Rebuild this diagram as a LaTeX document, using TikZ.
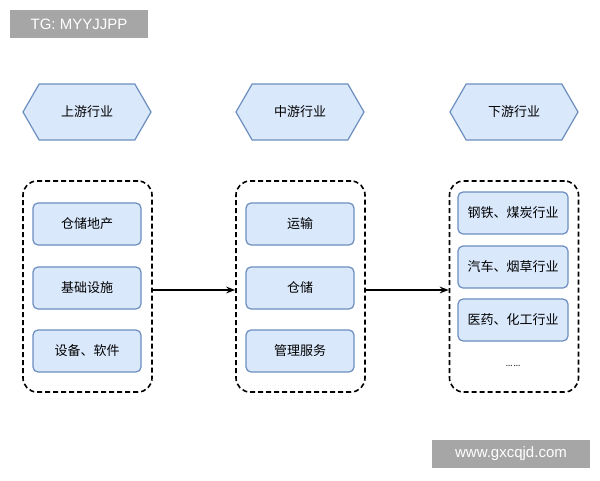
\documentclass[tikz,border=0pt]{standalone}
\usepackage{fontspec}
\newfontfamily\cjk{Noto Sans CJK SC}
\newfontfamily\tagfont{Liberation Sans}
\usetikzlibrary{shapes.symbols,arrows.meta}
\definecolor{lblue}{HTML}{DAE8FC}
\definecolor{dblue}{HTML}{6C8EBF}
\tikzset{
  hexa/.style={signal,signal to=west and east,signal pointer angle=120,draw=dblue,fill=lblue,line width=1.2pt,
    minimum width=128pt,minimum height=56pt,inner sep=0pt,font=\cjk\fontsize{13}{15}\selectfont},
  item/.style={draw=dblue,fill=lblue,line width=1.2pt,rounded corners=5pt,minimum width=108pt,minimum height=42pt,
    inner sep=0pt,font=\cjk\fontsize{13}{15}\selectfont},
  group/.style={draw,line width=1.6pt,dash pattern=on 5pt off 3pt,rounded corners=14pt,minimum width=129pt,minimum height=211pt},
  tag/.style={fill=gray!70,text=white,inner sep=0pt,font=\tagfont\fontsize{15}{17}\selectfont}
}
\begin{document}
\begin{tikzpicture}[x=1pt,y=-1pt]
\useasboundingbox (0,0) rectangle (600,480);
\fill[white] (0,0) rectangle (600,480);
\node[tag,minimum width=138pt,minimum height=28pt] (tg) at (79,24) {TG: MYYJJPP};
\node[tag,minimum width=158pt,minimum height=28pt] (web) at (511,454) {www.gxcqjd.com};
% headers
\node[hexa] (up) at (87,112) {上游行业};
\node[hexa] (mid) at (300,112) {中游行业};
\node[hexa] (down) at (514,112) {下游行业};
% groups
\node[group] (g1) at (87.5,286.5) {};
\node[group] (g2) at (300.5,286.5) {};
\node[group] (g3) at (514,286.5) {};
% upstream
\node[item] (u1) at (87,224) {仓储地产};
\node[item] (u2) at (87,288) {基础设施};
\node[item] (u3) at (87,351) {设备、软件};
% midstream
\node[item] (m1) at (300,224) {运输};
\node[item] (m2) at (300,288) {仓储};
\node[item] (m3) at (300,351) {管理服务};
% downstream
\node[item,minimum width=110pt] (d1) at (513,213) {钢铁、煤炭行业};
\node[item,minimum width=110pt] (d2) at (513,267) {汽车、烟草行业};
\node[item,minimum width=110pt] (d3) at (513,320) {医药、化工行业};
\node[font=\fontsize{12}{14}\selectfont] (dots) at (513,366) {……};
% arrows
\draw[-{Stealth[length=9pt]},line width=1.4pt] (g1.east |- 0,290) -- (g2.west |- 0,290);
\draw[-{Stealth[length=9pt]},line width=1.4pt] (g2.east |- 0,290) -- (g3.west |- 0,290);
\end{tikzpicture}
\end{document}
